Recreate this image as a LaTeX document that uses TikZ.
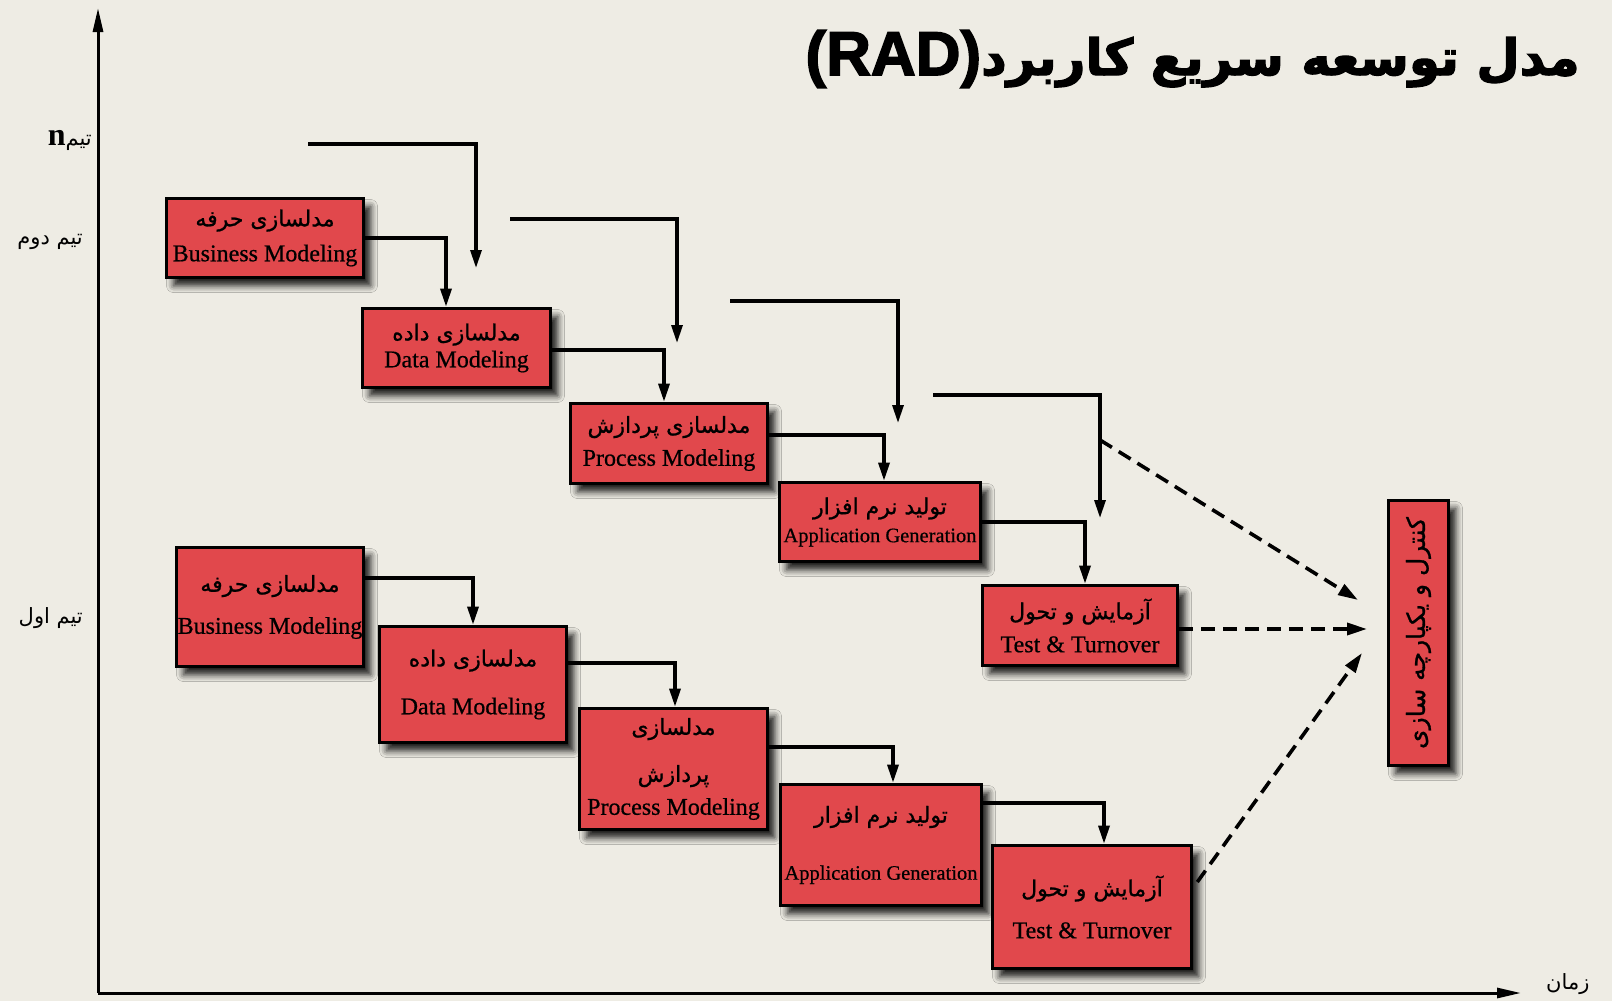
\documentclass[tikz,border=0pt]{standalone}
\usepackage{fontspec}
\usepackage{graphicx}
\setmainfont{Liberation Serif}
\newfontfamily\en[FakeBold=0.6]{Liberation Serif}
\newfontfamily\fa[Script=Arabic,FakeBold=1]{DejaVu Sans}
\newfontfamily\falbl[Script=Arabic]{DejaVu Sans}
\newfontfamily\fahead[Script=Arabic,FakeBold=2.5]{DejaVu Sans Bold}
\newfontfamily\headsans[FakeBold=2.5]{Liberation Sans Bold}
\TeXXeTstate=1
\usetikzlibrary{arrows.meta,shadows.blur}

\definecolor{paper}{RGB}{238,236,228}
\definecolor{stagered}{RGB}{225,72,76}

% Persian line (right to left) above an English caption, with extra gap #2
\newcommand{\stagelabel}[3]{{\fa\fontsize{22}{25}\selectfont\beginR #1\endR}\\[#2]#3}
\newcommand{\fatext}[1]{{\falbl\beginR #1\endR}}

\tikzset{
  stage/.style={draw=black, line width=3.6pt, fill=stagered, inner sep=0pt,
    align=center, font=\en\fontsize{24}{27}\selectfont,
    blur shadow={shadow xshift=7pt, shadow yshift=-8pt, shadow blur radius=7pt, shadow opacity=90}},
  flow/.style={line width=3.2pt, -{Triangle[length=18pt,width=11pt]}},
  handoff/.style={line width=3.6pt, dash pattern=on 14pt off 8pt, -{Triangle[length=20pt,width=12pt]}},
  axis/.style={line width=3pt, -{Triangle[length=24pt,width=10pt]}},
  teamlbl/.style={inner sep=0pt, font=\fontsize{21}{24}\selectfont},
}

\begin{document}
\begin{tikzpicture}[x=1pt,y=-1pt]
\fill[paper] (0,0) rectangle (1612,1001);
\useasboundingbox (0,0) rectangle (1612,1001);

% title
\node[anchor=east, inner sep=0pt] (title) at (1580,59)
  {{\headsans\fontsize{62}{66}\selectfont (RAD)}{\fahead\fontsize{50}{60}\selectfont\beginR مدل توسعه سریع کاربرد\endR}};

% axes
\coordinate (O) at (98,993);
\coordinate (ytip) at (98,8);
\coordinate (xtip) at (1521,993);
\draw[axis] (O) -- (ytip);
\draw[axis] (O) -- (xtip);

\node[teamlbl, anchor=east] (teamn) at (92,140)
  {{\bfseries\fontsize{32}{34}\selectfont n}\fatext{تیم}};
\node[teamlbl, anchor=east] (team2) at (83,242) {\fatext{تیم دوم}};
\node[teamlbl, anchor=east] (team1) at (83,618) {\fatext{تیم اول}};
\node[teamlbl, anchor=west] (time) at (1546,984) {\fatext{زمان}};

% second team
\node[stage, minimum width=197, minimum height=79] (B1) at (265,238)
  {\stagelabel{مدلسازی حرفه}{8pt}{Business Modeling}};
\node[stage, minimum width=188, minimum height=79] (B2) at (456.5,348)
  {\stagelabel{مدلسازی داده}{0pt}{Data Modeling}};
\node[stage, minimum width=197, minimum height=80] (B3) at (669,443.5)
  {\stagelabel{مدلسازی پردازش}{6pt}{Process Modeling}};
\node[stage, minimum width=201, minimum height=79, font=\en\fontsize{20.5}{24}\selectfont] (B4) at (880,522)
  {\stagelabel{تولید نرم افزار}{4pt}{Application Generation}};
\node[stage, minimum width=195, minimum height=80] (B5) at (1080,625.5)
  {\stagelabel{آزمایش و تحول}{6pt}{Test \& Turnover}};

% first team
\node[stage, minimum width=187, minimum height=119] (C1) at (270,607)
  {\stagelabel{مدلسازی حرفه}{15pt}{Business Modeling}};
\node[stage, minimum width=187, minimum height=116] (C2) at (473,684.5)
  {\stagelabel{مدلسازی داده}{21pt}{Data Modeling}};
\node[stage, minimum width=188, minimum height=121] (C3) at (673.5,769)
  {{\fa\fontsize{22}{25}\selectfont\beginR مدلسازی\endR}\\[20pt]\stagelabel{پردازش}{6pt}{Process Modeling}};
\node[stage, minimum width=201, minimum height=121, font=\en\fontsize{20.5}{24}\selectfont] (C4) at (881,845)
  {\stagelabel{تولید نرم افزار}{33pt}{Application Generation}};
\node[stage, minimum width=199, minimum height=123] (C5) at (1092,907)
  {\stagelabel{آزمایش و تحول}{15pt}{Test \& Turnover}};

% integration box
\node[stage, minimum width=60, minimum height=265] (K) at (1418.5,633)
  {\rotatebox{90}{\fa\fontsize{25}{28}\selectfont\beginR کنترل و یکپارچه سازی\endR}};

% hand-offs inside each team
\draw[flow] (B1.east) -| ([xshift=-10.5pt]B2.north);
\draw[flow] ([yshift=-2pt]B2.east) -| ([xshift=-5pt]B3.north);
\draw[flow] ([yshift=8.5pt]B3.east) -| ([xshift=4pt]B4.north);
\draw[flow] (B4.east) -| ([xshift=5pt]B5.north);
\draw[flow] ([yshift=29pt]C1.east) -| (C2.north);
\draw[flow] ([yshift=21.5pt]C2.east) -| ([xshift=1.5pt]C3.north);
\draw[flow] ([yshift=22pt]C3.east) -| ([xshift=12pt]C4.north);
\draw[flow] ([yshift=42pt]C4.east) -| ([xshift=12pt]C5.north);

% team n stages
\coordinate (n1s) at (308,144); \coordinate (n1e) at (476,268);
\coordinate (n2s) at (510,219); \coordinate (n2e) at (677,343);
\coordinate (n3s) at (730,301); \coordinate (n3e) at (898,423);
\coordinate (n4s) at (933,395); \coordinate (n4e) at (1100,518);
\draw[flow] (n1s) -| (n1e);
\draw[flow] (n2s) -| (n2e);
\draw[flow] (n3s) -| (n3e);
\draw[flow] (n4s) -| (n4e);

% results flowing into integration
\coordinate (d1) at (1100,440);
\coordinate (k1) at (1358,600);
\coordinate (k2) at (1367,629);
\coordinate (k3) at (1362,653);
\draw[handoff] (d1) -- (k1);
\draw[handoff] (B5.east |- k2) -- (k2);
\draw[handoff] ([xshift=4pt,yshift=25pt]C5.east) -- (k3);
\end{tikzpicture}
\end{document}
